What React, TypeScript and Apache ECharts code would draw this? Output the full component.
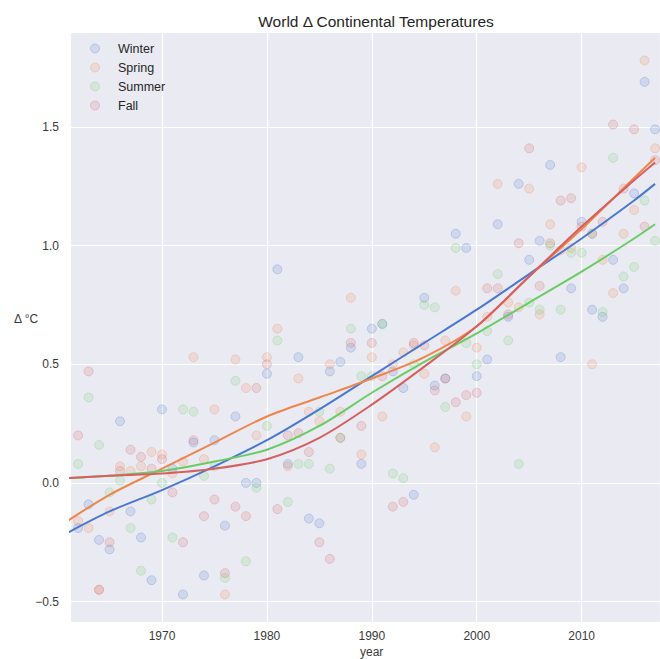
import React, { useEffect, useRef } from "react";
import * as echarts from "echarts";

const START_YEAR = 1961;

const winter = [
  -0.12, -0.19, -0.09, -0.24, -0.28, 0.26, -0.12, -0.23, -0.41, 0.31,
  0.06, -0.47, 0.17, -0.39, 0.18, -0.18, 0.28, 0.0, 0.0, 0.46,
  0.9, 0.08, 0.53, -0.15, -0.17, 0.47, 0.51, 0.57, 0.08, 0.65,
  0.67, 0.47, 0.4, -0.05, 0.78, 0.41, 0.44, 1.05, 0.99, 0.45,
  0.52, 1.09, 0.7, 1.26, 0.94, 1.02, 1.34, 0.53, 0.82, 1.1,
  0.73, 0.7, 0.94, 0.82, 1.22, 1.69, 1.49,
];
const spring = [
  0.08, -0.16, -0.19, -0.45, -0.12, 0.07, 0.05, 0.07, 0.13, 0.12,
  0.04, 0.09, 0.53, 0.1, 0.31, -0.47, 0.52, 0.4, 0.2, 0.53,
  0.65, 0.07, 0.44, 0.3, 0.26, 0.5, 0.3, 0.78, 0.12, 0.53,
  0.28, 0.5, 0.55, 0.58, 0.46, 0.15, 0.6, 0.81, 0.28, 0.57,
  0.7, 1.26, 0.76, 0.74, 1.24, 0.71, 1.09, 0.98, 0.99, 1.33,
  0.5, 0.94, 0.8, 1.05, 1.15, 1.78, 1.41,
];
const summer = [
  0.3, 0.08, 0.36, 0.16, -0.04, 0.01, -0.19, -0.37, -0.07, 0.0,
  -0.23, 0.31, 0.3, 0.03, 0.07, -0.4, 0.43, -0.33, -0.02, 0.24,
  0.6, -0.08, 0.08, 0.08, 0.3, 0.06, 0.19, 0.65, 0.45, 0.45,
  0.67, 0.04, 0.02, 0.5, 0.75, 0.74, 0.32, 0.99, 0.59, 0.5,
  0.64, 0.88, 0.6, 0.08, 0.76, 0.73, 1.0, 0.73, 0.97, 0.97,
  1.05, 0.72, 1.37, 0.87, 0.91, 1.19, 1.02,
];
const fall = [
  0.23, 0.2, 0.47, -0.45, -0.25, 0.05, 0.14, 0.11, 0.06, 0.1,
  -0.04, -0.25, 0.18, -0.14, -0.07, -0.38, -0.1, -0.14, 0.4, 0.5,
  -0.11, 0.2, 0.21, 0.13, -0.25, -0.32, 0.19, 0.59, 0.24, 0.59,
  0.45, -0.1, -0.08, 0.59, 0.58, 0.39, 0.44, 0.34, 0.37, 0.38,
  0.82, 0.82, 0.71, 1.01, 1.41, 0.83, 1.01, 1.19, 1.2, 1.08,
  1.05, 1.1, 1.51, 1.24, 1.49, 1.08, 1.36,
];

// smoothed trend lines
const trendYears = [1961, 1965, 1970, 1975, 1980, 1985, 1990, 1995, 2000, 2005, 2010, 2015, 2017];
const winterTrend = [-0.21, -0.12, -0.03, 0.07, 0.18, 0.31, 0.45, 0.59, 0.73, 0.88, 1.03, 1.19, 1.26];
const springTrend = [-0.16, -0.05, 0.06, 0.17, 0.28, 0.36, 0.44, 0.53, 0.66, 0.87, 1.07, 1.285, 1.37];
const summerTrend = [0.02, 0.03, 0.05, 0.09, 0.14, 0.24, 0.38, 0.51, 0.63, 0.76, 0.89, 1.03, 1.09];
const fallTrend = [0.02, 0.03, 0.04, 0.06, 0.1, 0.19, 0.33, 0.49, 0.66, 0.87, 1.08, 1.275, 1.35];

const seasons = ["Winter", "Spring", "Summer", "Fall"];
const yTickValues = [-0.5, 0.0, 0.5, 1.0, 1.5];

const COLORS: Record<string, [number, number, number]> = {
  Winter: [72, 120, 208],
  Spring: [238, 133, 74],
  Summer: [106, 204, 100],
  Fall: [214, 95, 95],
};

const FONT = "Liberation Sans, Arial, sans-serif";

function rgba(c: [number, number, number], a: number) {
  return `rgba(${c[0]},${c[1]},${c[2]},${a})`;
}

export default function App() {
  const ref = useRef<HTMLDivElement>(null);

  useEffect(() => {
    if (!ref.current) return;
    const chart = echarts.init(ref.current, null, { renderer: "svg" });

    const scatterValues: Record<string, number[]> = {
      Winter: winter,
      Spring: spring,
      Summer: summer,
      Fall: fall,
    };
    const trendValues: Record<string, number[]> = {
      Winter: winterTrend,
      Spring: springTrend,
      Summer: summerTrend,
      Fall: fallTrend,
    };

    const scatterSeries = seasons.map((s) => ({
      name: s,
      type: "scatter",
      symbol: "circle",
      symbolSize: 9,
      z: 2,
      data: scatterValues[s].map((v, i) => [START_YEAR + i, v]),
      itemStyle: {
        color: rgba(COLORS[s], 0.2),
        borderColor: rgba(COLORS[s], 0.32),
        borderWidth: 1,
      },
    }));

    const lineSeries = seasons.map((s) => ({
      name: s + " trend",
      type: "line",
      smooth: 0.3,
      showSymbol: false,
      z: 3,
      data: trendValues[s].map((v, i) => [trendYears[i], v]),
      lineStyle: { color: rgba(COLORS[s], 1), width: 2 },
      itemStyle: { color: rgba(COLORS[s], 1) },
    }));

    const labelColor = "#3a3a3a";

    chart.setOption({
      animation: false,
      backgroundColor: "#ffffff",
      title: {
        text: "World Δ Continental Temperatures",
        left: 371,
        textAlign: "center",
        top: 8,
        textStyle: { fontFamily: FONT, fontSize: 15.5, fontWeight: "normal", color: "#262626" },
      },
      legend: {
        orient: "vertical",
        left: 85,
        top: 37,
        itemWidth: 36,
        itemHeight: 9,
        itemGap: 6,
        data: seasons.map((s) => ({
          name: s,
          icon: "circle",
          itemStyle: {
            color: rgba(COLORS[s], 0.2),
            borderColor: rgba(COLORS[s], 0.32),
            borderWidth: 1,
          },
        })),
        textStyle: { fontFamily: FONT, fontSize: 12.5, color: "#262626" },
      },
      graphic: [
        {
          type: "text",
          left: 14,
          top: 313,
          style: { text: "Δ °C", fontFamily: FONT, fontSize: 12, fill: labelColor },
        },
        {
          type: "text",
          left: 360,
          top: 646,
          style: { text: "year", fontFamily: FONT, fontSize: 12, fill: labelColor },
        },
      ],
      grid: {
        left: 70,
        top: 32,
        right: 0,
        bottom: 37,
        show: true,
        backgroundColor: "#eaeaf2",
        borderWidth: 0,
        outerBoundsMode: "none",
      },
      xAxis: {
        type: "value",
        min: 1961.23,
        max: 2017.47,
        minInterval: 10,
        maxInterval: 10,
        axisLine: { show: false },
        axisTick: { show: false },
        axisLabel: {
          margin: 8,
          fontFamily: FONT,
          fontSize: 12,
          color: labelColor,
          showMinLabel: false,
          showMaxLabel: false,
          formatter: (v: number) => String(Math.round(v)),
        },
        splitLine: { show: true, lineStyle: { color: "#ffffff", width: 1.2 } },
      },
      yAxis: {
        type: "value",
        min: -0.586,
        max: 1.9,
        minInterval: 0.5,
        maxInterval: 0.5,
        axisLine: { show: false },
        axisTick: { show: false },
        axisLabel: {
          margin: 11,
          fontFamily: FONT,
          fontSize: 12,
          color: labelColor,
          showMinLabel: false,
          showMaxLabel: false,
          formatter: (v: number) => {
            const t = yTickValues.find((k) => Math.abs(k - v) < 1e-6);
            if (t === undefined) return "";
            return t.toFixed(1).replace("-", "\u2212");
          },
        },
        splitLine: { show: true, lineStyle: { color: "#ffffff", width: 1.2 } },
      },
      series: [...scatterSeries, ...lineSeries],
    });

    return () => chart.dispose();
  }, []);

  return (
    <div
      ref={ref}
      style={{ position: "absolute", left: 0, top: 0, width: 660, height: 659 }}
    />
  );
}
